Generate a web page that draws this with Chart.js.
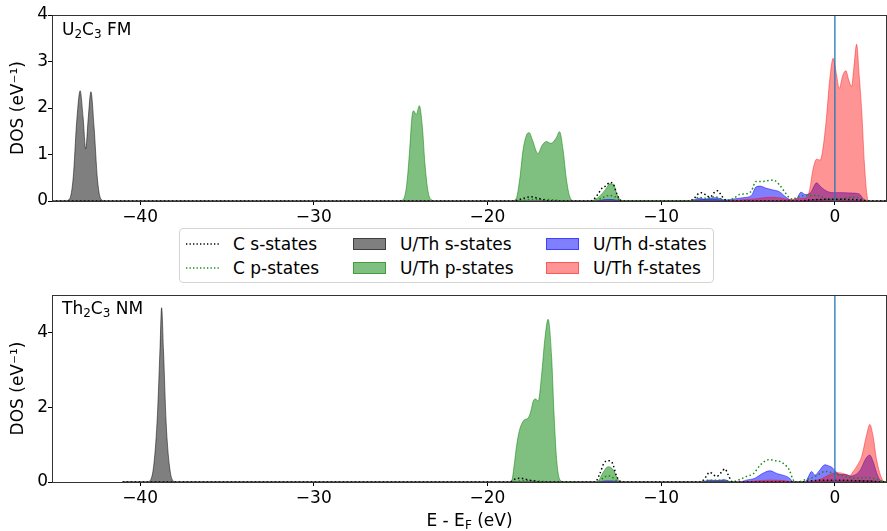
<!DOCTYPE html>
<html><head><meta charset="utf-8">
<script src="https://cdn.jsdelivr.net/npm/chart.js@4.4.1/dist/chart.umd.min.js"></script>
<style>
body{margin:0;background:#fff;width:887px;height:531px;position:relative;overflow:hidden;font-family:'DejaVu Sans',sans-serif;color:#000}
canvas{position:absolute;left:0}
#c1{top:0}
#c2{top:282px}
.ttl{position:absolute;font-size:17px;line-height:20px;white-space:nowrap}
.ttl sub{font-size:12px;vertical-align:-3px;line-height:0}
#legend{position:absolute;left:179px;top:228px;width:535px;height:55px;border:1px solid #d4d4d4;border-radius:4px;box-sizing:border-box;background:#fff}
.li{position:absolute;font-size:17px;line-height:20px;white-space:nowrap}
.sw{position:absolute;width:33px;height:12px}
.ln{position:absolute;width:33px;height:4px}
</style></head>
<body>
<canvas id="c1" width="887" height="228"></canvas>
<canvas id="c2" width="887" height="249"></canvas>
<div class="ttl" style="left:62px;top:19px">U<sub>2</sub>C<sub>3</sub> FM</div>
<div class="ttl" style="left:62px;top:298px">Th<sub>2</sub>C<sub>3</sub> NM</div>
<div class="ttl" style="left:52px;width:835px;top:510px;text-align:center">E - E<sub>F</sub> (eV)</div>
<div id="legend"></div>
<script>
// ---------- data: [energy (eV), DOS (1/eV)] ----------
const xTicks = [-40, -30, -20, -10, 0];
const topYTicks = [0, 1, 2, 3, 4];
const bottomYTicks = [0, 2, 4];
const fermiEnergy = 0;

// U2C3 FM
const fm_Cs = [[-46,0],[-18.5,0],[-18.0,0.05],[-17.5,0.09],[-17.1,0.06],[-16.7,0.02],[-16.3,0],
  [-14.2,0],[-13.9,0.03],[-13.6,0.17],[-13.4,0.28],[-13.2,0.32],[-12.95,0.4],[-12.75,0.36],[-12.55,0.15],[-12.35,0.02],[-12.2,0],
  [-8.4,0],[-8.1,0.06],[-7.85,0.16],[-7.65,0.18],[-7.4,0.12],[-7.2,0.08],[-6.95,0.18],[-6.75,0.22],[-6.5,0.1],[-6.25,0.01],[-6.0,0],
  [-2.0,0],[-1.5,0.02],[0,0.04],[1.5,0.02],[2.0,0],[3.5,0]];
const fm_Cp = [[-46,0],[-18.3,0],[-17.6,0.03],[-16.5,0.03],[-15.5,0],
  [-13.9,0],[-13.5,0.05],[-13.0,0.12],[-12.7,0.1],[-12.4,0.02],[-12.2,0],
  [-8.3,0],[-7.8,0.08],[-7.5,0.06],[-6.9,0.09],[-6.5,0.04],[-6.2,0.02],
  [-5.85,0.05],[-5.5,0.14],[-5.0,0.16],[-4.8,0.22],[-4.55,0.42],[-4.2,0.42],[-3.8,0.44],[-3.55,0.45],[-3.2,0.35],[-2.9,0.2],[-2.6,0.06],[-2.4,0.04],
  [-2.2,0.08],[-1.6,0.12],[-1.0,0.12],[-0.5,0.05],[0,0.03],[0.4,0.05],[1.0,0.08],[1.5,0.05],[1.9,0],[3.5,0]];
const fm_Us = [[-46,0],[-44.3,0],[-44.05,0.05],[-43.85,0.5],[-43.65,1.7],[-43.45,2.37],[-43.28,1.8],[-43.13,1.12],[-42.98,1.8],[-42.83,2.35],[-42.65,1.6],[-42.45,0.45],[-42.25,0.04],[-42.0,0],[3.5,0]];
const fm_Up = [[-46,0],[-25.1,0],[-24.85,0.03],[-24.65,0.35],[-24.48,1.1],[-24.35,1.8],[-24.25,1.94],[-24.1,1.86],[-23.92,2.05],[-23.75,1.6],[-23.6,0.8],[-23.42,0.2],[-23.2,0.02],[-23.0,0],
  [-18.6,0],[-18.35,0.05],[-18.15,0.45],[-17.95,1.1],[-17.75,1.42],[-17.6,1.47],[-17.4,1.3],[-17.1,1.02],[-16.85,1.2],[-16.6,1.28],[-16.35,1.24],[-16.05,1.35],[-15.85,1.49],[-15.65,1.1],[-15.45,0.45],[-15.25,0.08],[-15.0,0],
  [-14.1,0],[-13.85,0.02],[-13.5,0.12],[-13.2,0.25],[-12.95,0.37],[-12.75,0.36],[-12.55,0.15],[-12.35,0.02],[-12.2,0],
  [-8.3,0],[-7.7,0.03],[-6.8,0.03],[-6.2,0],[-2.0,0],[-1.0,0.03],[0.5,0.02],[1.8,0],[3.5,0]];
const fm_Ud = [[-46,0],[-13.8,0],[-13.2,0.03],[-12.8,0.03],[-12.3,0],[-8.3,0],[-7.8,0.06],[-7.5,0.04],[-7.0,0.07],[-6.7,0.06],[-6.3,0.02],
  [-5.9,0.04],[-5.3,0.07],[-4.8,0.12],[-4.55,0.3],[-4.3,0.32],[-4.0,0.28],[-3.6,0.24],[-3.2,0.2],[-2.8,0.08],[-2.5,0.02],[-2.2,0.05],
  [-1.95,0.19],[-1.7,0.14],[-1.4,0.18],[-1.05,0.39],[-0.8,0.3],[-0.4,0.2],[0,0.18],[0.5,0.18],[1.0,0.17],[1.4,0.15],[1.65,0.04],[1.8,0],[3.5,0]];
const fm_Uf = [[-46,0],[-6.2,0],[-5.5,0.02],[-4.5,0.05],[-3.8,0.08],[-3.2,0.07],[-2.6,0.03],[-2.2,0.05],[-1.8,0.06],
  [-1.6,0.08],[-1.45,0.25],[-1.25,0.7],[-1.05,0.9],[-0.85,0.88],[-0.7,1.1],[-0.48,1.81],[-0.3,2.6],[-0.1,3.07],[0.1,2.7],[0.25,2.42],[0.45,2.7],[0.63,2.8],[0.8,2.6],[0.96,2.46],[1.1,2.9],[1.25,3.37],
  [1.4,2.7],[1.55,1.9],[1.7,0.8],[1.85,0.12],[1.95,0],[3.5,0]];

// Th2C3 NM
const nm_Cs = [[-41,0],[-18.7,0],[-18.4,0.08],[-18.1,0.1],[-17.7,0.06],[-17.3,0.03],[-16.8,0],
  [-13.8,0],[-13.55,0.2],[-13.3,0.5],[-13.05,0.57],[-12.8,0.5],[-12.6,0.2],[-12.4,0.03],[-12.2,0],
  [-7.8,0],[-7.55,0.06],[-7.2,0.26],[-6.95,0.18],[-6.8,0.15],[-6.55,0.25],[-6.33,0.35],[-6.15,0.2],[-5.95,0.02],[-5.8,0],
  [-2.0,0],[-1.5,0.03],[0,0.05],[1.5,0.03],[2.5,0.01],[3.5,0]];
const nm_Cp = [[-41,0],[-18.6,0],[-17.8,0.04],[-17.0,0.02],[-16.0,0],
  [-13.7,0],[-13.3,0.12],[-13.05,0.17],[-12.8,0.12],[-12.4,0],
  [-7.8,0],[-7.3,0.05],[-6.4,0.05],[-5.9,0.01],
  [-5.76,0.02],[-5.4,0.08],[-5.08,0.15],[-4.7,0.22],[-4.3,0.45],[-3.95,0.58],[-3.74,0.6],[-3.45,0.57],[-3.17,0.55],[-2.78,0.42],[-2.6,0.3],[-2.49,0.15],[-2.35,0.03],[-2.1,0],
  [-1.8,0.05],[-1.4,0.1],[-1.0,0.18],[-0.6,0.28],[-0.2,0.25],[0.3,0.18],[0.8,0.12],[1.3,0.1],[1.8,0.12],[2.2,0.1],[2.6,0.04],[3.0,0],[3.5,0]];
const nm_Us = [[-41,0],[-39.6,0],[-39.4,0.05],[-39.2,0.5],[-39.0,1.8],[-38.85,3.6],[-38.76,4.66],[-38.65,3.5],[-38.5,1.6],[-38.3,0.4],[-38.1,0.03],[-37.9,0],[3.5,0]];
const nm_Up = [[-41,0],[-18.8,0],[-18.61,0.03],[-18.45,0.5],[-18.33,0.95],[-18.15,1.4],[-18.0,1.58],[-17.85,1.67],[-17.66,1.71],[-17.5,1.9],[-17.37,2.16],[-17.23,2.22],[-17.08,2.16],[-16.89,2.83],[-16.7,3.81],[-16.51,4.35],[-16.31,3.37],[-16.18,1.94],[-16.02,0.6],[-15.83,0.06],[-15.6,0],
  [-13.8,0],[-13.63,0.02],[-13.35,0.25],[-13.05,0.41],[-12.75,0.32],[-12.5,0.08],[-12.35,0.01],[-12.2,0],
  [-7.8,0],[-7.2,0.03],[-6.4,0.03],[-5.9,0],[-1.5,0],[-0.5,0.03],[1.0,0.03],[2.0,0.04],[2.6,0],[3.5,0]];
const nm_Ud = [[-41,0],[-13.7,0],[-13.2,0.03],[-12.8,0.03],[-12.4,0],[-7.7,0],[-7.2,0.05],[-6.8,0.04],[-6.35,0.06],[-6.0,0],
  [-5.5,0],[-5.1,0.05],[-4.6,0.1],[-4.2,0.22],[-3.74,0.3],[-3.3,0.22],[-2.9,0.17],[-2.6,0.1],[-2.45,0.02],[-2.2,0],
  [-1.7,0],[-1.55,0.12],[-1.34,0.28],[-1.15,0.18],[-0.9,0.3],[-0.58,0.46],[-0.35,0.43],[-0.19,0.4],[0.05,0.28],[0.29,0.2],[0.6,0.2],[0.9,0.16],
  [1.2,0.2],[1.5,0.35],[1.75,0.6],[2.0,0.72],[2.2,0.55],[2.4,0.25],[2.6,0.05],[2.8,0],[3.5,0]];
const nm_Uf = [[-41,0],[-5.5,0],[-4.5,0.03],[-3.8,0.05],[-3.0,0.04],[-2.4,0],[-1.6,0],[-1.2,0.03],[-0.8,0.08],[-0.29,0.2],[0.2,0.25],[0.67,0.2],[0.85,0.17],
  [1.05,0.28],[1.3,0.45],[1.54,0.68],[1.83,1.27],[2.01,1.54],[2.2,1.22],[2.4,0.6],[2.69,0.1],[2.9,0],[3.5,0]];

const seriesLabels = ['C s-states','C p-states','U/Th s-states','U/Th p-states','U/Th d-states','U/Th f-states'];

// ---------- styles ----------
const styles = {
  Cs: {kind:'line', color:'#000000'},
  Cp: {kind:'line', color:'#138a13'},
  Us: {kind:'fill', color:'rgba(0,0,0,0.5)'},
  Up: {kind:'fill', color:'rgba(0,128,0,0.5)'},
  Ud: {kind:'fill', color:'rgba(0,0,255,0.5)'},
  Uf: {kind:'fill', color:'rgba(255,0,0,0.42)'}
};
const drawOrder = {Cs:1, Cp:2, Uf:3, Ud:4, Up:5, Us:6};

Chart.defaults.font.family = "'DejaVu Sans', sans-serif";
Chart.defaults.font.size = 17;
Chart.defaults.color = '#000';

function pts(a){ return a.map(p => ({x:p[0], y:p[1]})); }
function fmt(v){ return String(v).replace('-', '\u2212'); }

function ds(key, arr){
  const s = styles[key];
  const base = {data: pts(arr), pointRadius:0, cubicInterpolationMode:'monotone', order: drawOrder[key]};
  if (s.kind === 'line') return Object.assign(base, {borderColor:s.color, borderWidth:1.5, borderDash:[1.5,2.5], fill:false});
  return Object.assign(base, {borderColor:s.color, backgroundColor:s.color, borderWidth:1, fill:'origin'});
}

const frame = {
  id:'frame',
  afterDatasetsDraw(chart){
    const {ctx, chartArea:a} = chart;
    ctx.save(); ctx.strokeStyle = '#333'; ctx.lineWidth = 1;
    ctx.strokeRect(a.left + 0.5, a.top + 0.5, a.right - a.left - 1, a.bottom - a.top);
    ctx.restore();
  }
};

function makeChart(id, series, yMax, yTicks, padTop, xHeight, xMin){
  const datasets = [
    {data:[{x:fermiEnergy,y:0},{x:fermiEnergy,y:yMax}], borderColor:'#1f77b4', borderWidth:1.3, pointRadius:0, fill:false, order:0}
  ];
  for (const k of Object.keys(series)) datasets.push(ds(k, series[k]));
  return new Chart(document.getElementById(id), {
    type:'line',
    data:{datasets},
    plugins:[frame],
    options:{
      responsive:false, animation:false, events:[],
      layout:{padding:{top:padTop, right:0, left:0, bottom:0}},
      plugins:{legend:{display:false}, tooltip:{enabled:false}},
      scales:{
        x:{type:'linear', min:xMin, max:3,
          afterBuildTicks(s){ s.ticks = xTicks.map(v => ({value:v})); },
          afterFit(s){ s.height = xHeight; },
          ticks:{callback:fmt, padding:2, maxRotation:0, autoSkip:false, color:'#000'},
          grid:{drawOnChartArea:false, drawTicks:true, tickLength:4, color:'#000'},
          border:{display:true, color:'#333'}},
        y:{type:'linear', min:0, max:yMax,
          afterBuildTicks(s){ s.ticks = yTicks.map(v => ({value:v})); },
          afterFit(s){ s.width = 52; },
          ticks:{padding:0, color:'#000'},
          grid:{drawOnChartArea:false, drawTicks:true, tickLength:4, color:'#000'},
          border:{display:true, color:'#333'},
          title:{display:true, text:'DOS (eV\u207B\u00B9)', padding:{top:8, bottom:0}, color:'#000'}}
      }
    }
  });
}

makeChart('c1', {Cs:fm_Cs, Cp:fm_Cp, Us:fm_Us, Up:fm_Up, Ud:fm_Ud, Uf:fm_Uf}, 4, topYTicks, 15, 27, -45.07);
makeChart('c2', {Cs:nm_Cs, Cp:nm_Cp, Us:nm_Us, Up:nm_Up, Ud:nm_Ud, Uf:nm_Uf}, 5, bottomYTicks, 13, 49, -45.07);

// ---------- legend (matplotlib column order) ----------
const lg = document.getElementById('legend');
const keys = ['Cs','Cp','Us','Up','Ud','Uf'];
const colX = [[6,53],[173,220],[366,413]];
const rowY = [14.5, 39];
keys.forEach((k, i) => {
  const col = Math.floor(i / 2), row = i % 2;
  const s = styles[k];
  const cy = rowY[row];
  if (s.kind === 'line') {
    const svg = document.createElementNS('http://www.w3.org/2000/svg','svg');
    svg.setAttribute('class','ln'); svg.setAttribute('width','33'); svg.setAttribute('height','4');
    svg.style.left = colX[col][0] + 'px'; svg.style.top = (cy - 2) + 'px';
    const l = document.createElementNS('http://www.w3.org/2000/svg','line');
    l.setAttribute('x1','0'); l.setAttribute('x2','33'); l.setAttribute('y1','2'); l.setAttribute('y2','2');
    l.setAttribute('stroke', s.color); l.setAttribute('stroke-width','1.3'); l.setAttribute('stroke-dasharray','1.3 2.2');
    svg.appendChild(l); lg.appendChild(svg);
  } else {
    const r = document.createElement('div');
    r.className = 'sw'; r.style.background = s.color; r.style.border = '1px solid ' + s.color; r.style.boxSizing='border-box';
    r.style.left = colX[col][0] + 'px'; r.style.top = (cy - 6) + 'px';
    lg.appendChild(r);
  }
  const t = document.createElement('div');
  t.className = 'li'; t.textContent = seriesLabels[i];
  t.style.left = colX[col][1] + 'px'; t.style.top = (cy - 10) + 'px';
  lg.appendChild(t);
});
</script>
</body></html>
